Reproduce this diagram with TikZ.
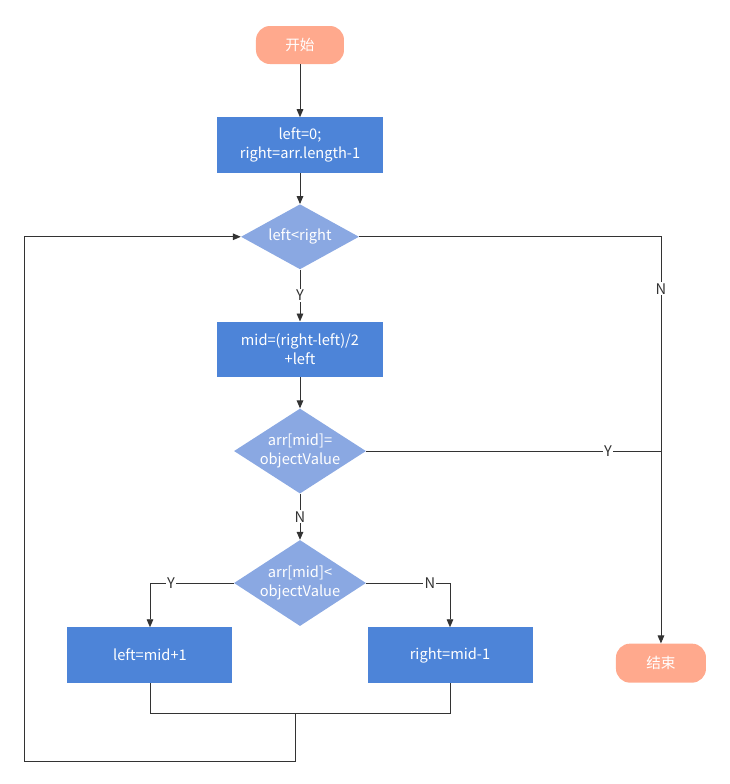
\documentclass[tikz,border=0pt]{standalone}
\usepackage{fontspec}
\setmainfont{Noto Sans CJK SC}
\usetikzlibrary{positioning,shapes.geometric,arrows.meta,calc}
\definecolor{termfill}{HTML}{FFA98D}
\definecolor{procfill}{HTML}{4D84D8}
\definecolor{decfill}{HTML}{8AA8E2}
\definecolor{linegray}{HTML}{333333}
% text of a decision node, kept out of the diamond's size
\newcommand{\dectext}[1]{\makebox[0pt]{\begin{tabular}{@{}c@{}}#1\end{tabular}}}

\begin{document}
\begin{tikzpicture}[
    node distance=1cm,
    font=\fontsize{12.5}{16}\selectfont,
    term/.style={
        rectangle,
        rounded corners=0.42cm,
        fill=termfill,
        text=white,
        minimum width=2.64cm,
        minimum height=1.14cm
    },
    proc/.style={
        rectangle,
        fill=procfill,
        text=white,
        minimum width=4.95cm,
        minimum height=1.66cm,
        align=center
    },
    decision/.style={
        diamond,
        fill=decfill,
        text=white,
        inner sep=0pt
    },
    arrow/.style={-{Triangle[length=2.4mm,width=2mm]}, line width=0.8pt, draw=linegray},
    link/.style={line width=0.8pt, draw=linegray},
    tag/.style={fill=white, text=linegray, inner sep=1pt}
]
    \useasboundingbox (-9,1.35) rectangle (12.87,-22.17);

    % Main column
    \node[term] (start) at (0,0) {开始};
    \node[proc, below=1.59cm of start] (init) {left=0;\\right=arr.length-1};
    \node[decision, minimum width=3.54cm, minimum height=1.95cm, below=0.93cm of init] (cond) {\dectext{left<right}};
    \node[proc, below=1.56cm of cond] (calc) {mid=(right-left)/2\\+left};
    \node[decision, minimum width=3.96cm, minimum height=2.55cm, below=0.93cm of calc] (found) {\dectext{arr[mid]=\\objectValue}};
    \node[decision, minimum width=3.96cm, minimum height=2.58cm, below=1.38cm of found] (less) {\dectext{arr[mid]<\\objectValue}};

    % Branches
    \node[proc, below=0.03cm of less, xshift=-4.5cm] (goright) {left=mid+1};
    \node[proc, below=0.03cm of less, xshift=4.5cm] (goleft) {right=mid-1};
    \node[term, minimum width=2.7cm, minimum height=1.17cm, right=2.49cm of goleft, yshift=-0.24cm] (end) {结束};

    % Connections
    \draw[arrow] (start) -- (init);
    \draw[arrow] (init) -- (cond);
    \draw[arrow] (cond) -- node[tag] {Y} (calc);
    \draw[arrow] (calc) -- (found);
    \draw[arrow] (found) -- node[tag] {N} (less);
    \draw[arrow] (cond.east) -| node[tag, pos=0.564] {N} (end.north);
    \draw[link] (found.east) -- node[tag, pos=0.82] {Y} (found.east -| end.north);
    \draw[arrow] (less.west) -| node[tag, pos=0.375] {Y} (goright.north);
    \draw[arrow] (less.east) -| node[tag, pos=0.38] {N} (goleft.north);

    % Loop back
    \coordinate (merge) at ($(goright.south)!0.485!(goleft.south)+(0,-0.9)$);
    \coordinate (low) at ($(merge)+(0,-1.44)$);
    \coordinate (back) at ($(cond.west)+(-6.48,0)$);
    \draw[link] (goright.south) -- ++(0,-0.9) -| (goleft.south);
    \draw[arrow] (merge) -- (low) -- (low -| back) -- (back) -- (cond.west);
\end{tikzpicture}
\end{document}
